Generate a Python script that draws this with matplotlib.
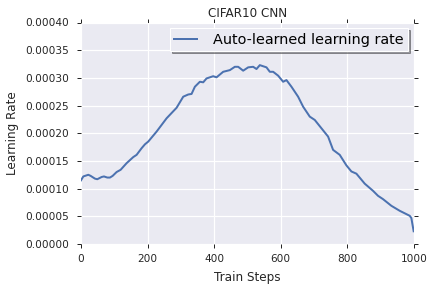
import matplotlib
matplotlib.use("Agg")
import matplotlib.pyplot as plt
import numpy as np

steps = [0, 7, 22, 29, 42, 49, 62, 69, 79, 87, 95, 107, 119, 137, 157, 167, 182, 192,
         202, 227, 257, 287, 307, 322, 332, 342, 357, 367, 377, 397, 407, 427, 447, 462,
         472, 487, 502, 517, 527, 537, 557, 567, 577, 592, 607, 617, 632, 652, 667, 687,
         702, 722, 742, 757, 777, 797, 812, 827, 852, 877, 892, 907, 932, 957, 987, 992, 999]
lr = [1.15e-4, 1.22e-4, 1.25e-4, 1.23e-4, 1.18e-4, 1.17e-4, 1.21e-4, 1.22e-4, 1.20e-4, 1.20e-4,
      1.23e-4, 1.30e-4, 1.34e-4, 1.46e-4, 1.57e-4, 1.61e-4, 1.73e-4, 1.80e-4,
      1.85e-4, 2.03e-4, 2.27e-4, 2.46e-4, 2.66e-4, 2.70e-4, 2.71e-4, 2.84e-4, 2.93e-4, 2.92e-4,
      2.99e-4, 3.03e-4, 3.01e-4, 3.11e-4, 3.14e-4, 3.20e-4, 3.20e-4, 3.13e-4, 3.19e-4, 3.20e-4,
      3.16e-4, 3.23e-4, 3.19e-4, 3.11e-4, 3.11e-4, 3.04e-4, 2.93e-4, 2.96e-4, 2.84e-4, 2.66e-4,
      2.48e-4, 2.30e-4, 2.24e-4, 2.09e-4, 1.94e-4, 1.70e-4, 1.61e-4, 1.42e-4, 1.31e-4, 1.27e-4,
      1.09e-4, 0.96e-4, 0.87e-4, 0.81e-4, 0.69e-4, 0.60e-4, 0.51e-4, 0.47e-4, 0.23e-4]

xticks = [0, 200, 400, 600, 800, 1000]
yticks = [0.0, 0.00005, 0.0001, 0.00015, 0.0002, 0.00025, 0.0003, 0.00035, 0.0004]

plt.rcParams['font.family'] = ['DejaVu Sans']
fig = plt.figure(figsize=(434/72, 289/72), dpi=72)
ax = fig.add_axes([81/434, 1-244/289, (414-81)/434, (244-22.5)/289])
ax.set_facecolor('#EAEAF2')
for s in ax.spines.values():
    s.set_visible(False)
ax.grid(True, color='white', linewidth=1.2)
ax.set_axisbelow(True)
ax.plot(steps, lr, color='#4C72B0', linewidth=2.0, label='Auto-learned learning rate')
ax.set_xlim(0, 1000)
ax.set_ylim(0, 0.0004)
ax.set_xticks(xticks)
ax.set_yticks(yticks)
ax.set_yticklabels(['%.5f' % v for v in yticks])
ax.tick_params(direction='out', length=4, width=1, color='#262626', labelcolor='#262626',
               labelsize=10.5, top=True, right=True)
ax.tick_params(axis='y', pad=8)
ax.tick_params(axis='x', pad=6)
ax.set_xlabel('Train Steps', fontsize=12, color='#262626', labelpad=7)
ax.set_ylabel('Learning Rate', fontsize=12, color='#262626', labelpad=6)
ax.set_title('CIFAR10 CNN', fontsize=12, color='#262626', pad=5.5)
leg = ax.legend(loc='upper right', fontsize=14.4, frameon=True, shadow=True, fancybox=False,
                borderaxespad=0.4, borderpad=0.3, handlelength=1.6, handletextpad=1.1)
leg.get_frame().set_facecolor('#EAEAF2')
leg.get_frame().set_edgecolor('white')
fig.savefig('out.png', dpi=72)
